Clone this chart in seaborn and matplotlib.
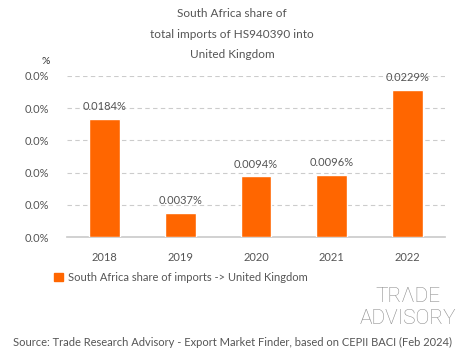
import matplotlib
matplotlib.use("Agg")
import matplotlib.pyplot as plt
from matplotlib.ticker import FuncFormatter
import seaborn as sns
import pandas as pd

# data
years = ["2018", "2019", "2020", "2021", "2022"]
share = [0.0184, 0.0037, 0.0094, 0.0096, 0.0229]
value_labels = ["0.0184%", "0.0037%", "0.0094%", "0.0096%", "0.0229%"]
y_ticks = [0.0, 0.005, 0.010, 0.015, 0.020, 0.025]

series_name = "South Africa share of imports -> United Kingdom"
title = "South Africa share of\ntotal imports of HS940390 into\nUnited Kingdom"
source = "Source: Trade Research Advisory - Export Market Finder, based on CEPII BACI (Feb 2024)"

bar_color = "#ff6600"
text_color = "#555555"

sns.set_theme(style="white")
plt.rcParams["font.family"] = ["Lato", "DejaVu Sans"]

df = pd.DataFrame({"year": years, "share": share})

fig = plt.figure(figsize=(4.65, 3.59), dpi=100)
ax = fig.add_axes([67 / 465, 1 - 237 / 359, (445 - 67) / 465, (237 - 76) / 359])

sns.barplot(data=df, x="year", y="share", color=bar_color, width=0.41,
            saturation=1, ax=ax, zorder=3)

ax.set_ylim(0, 0.025)
ax.set_yticks(y_ticks)
ax.yaxis.set_major_formatter(FuncFormatter(lambda v, p: f"{v:.1f}%"))
ax.grid(axis="y", color="#cccccc", linestyle=(0, (4, 3)), linewidth=0.8, zorder=0)
ax.grid(axis="x", visible=False)
for s in ["top", "right", "left"]:
    ax.spines[s].set_visible(False)
ax.spines["bottom"].set_color("#cccccc")
ax.tick_params(axis="both", length=0, labelsize=8, colors=text_color, pad=11)
ax.tick_params(axis="y", pad=13)
ax.set_xlabel("")
ax.set_ylabel("")

# value labels above bars
for i, (v, lab) in enumerate(zip(share, value_labels)):
    ax.annotate(lab, (i, v), xytext=(0, 5), textcoords="offset points",
                ha="center", va="bottom", fontsize=8, color=text_color)

fig.text(232 / 465, 1 - 34 / 359, title, ha="center", va="center",
         fontsize=8.5, color=text_color, linespacing=2.1)
fig.text(46 / 465, 1 - 61 / 359, "%", ha="center", va="center",
         fontsize=7.5, color="#333333")

# legend
ax.legend(handles=[plt.Rectangle((0, 0), 1, 1, color=bar_color)],
          labels=[series_name], loc="upper left", bbox_to_anchor=(-0.06, -0.155),
          frameon=False, fontsize=8, handlelength=0.8, handleheight=0.8,
          handletextpad=0.4, labelcolor=text_color)

# logo
fig.text(408 / 465, 1 - 297 / 359, "TR\u039BDE", ha="center", va="center",
         fontsize=15, color="#8c8c8c", family="Roboto", fontweight="light",
         fontstretch="condensed")
fig.text(408 / 465, 1 - 319 / 359, "ADVISORY", ha="center", va="center",
         fontsize=15, color="#8c8c8c", family="Roboto", fontweight="light")

fig.text(232 / 465, 1 - 342 / 359, source, ha="center", va="center",
         fontsize=8, color=text_color)

fig.savefig("out.png", dpi=100)
